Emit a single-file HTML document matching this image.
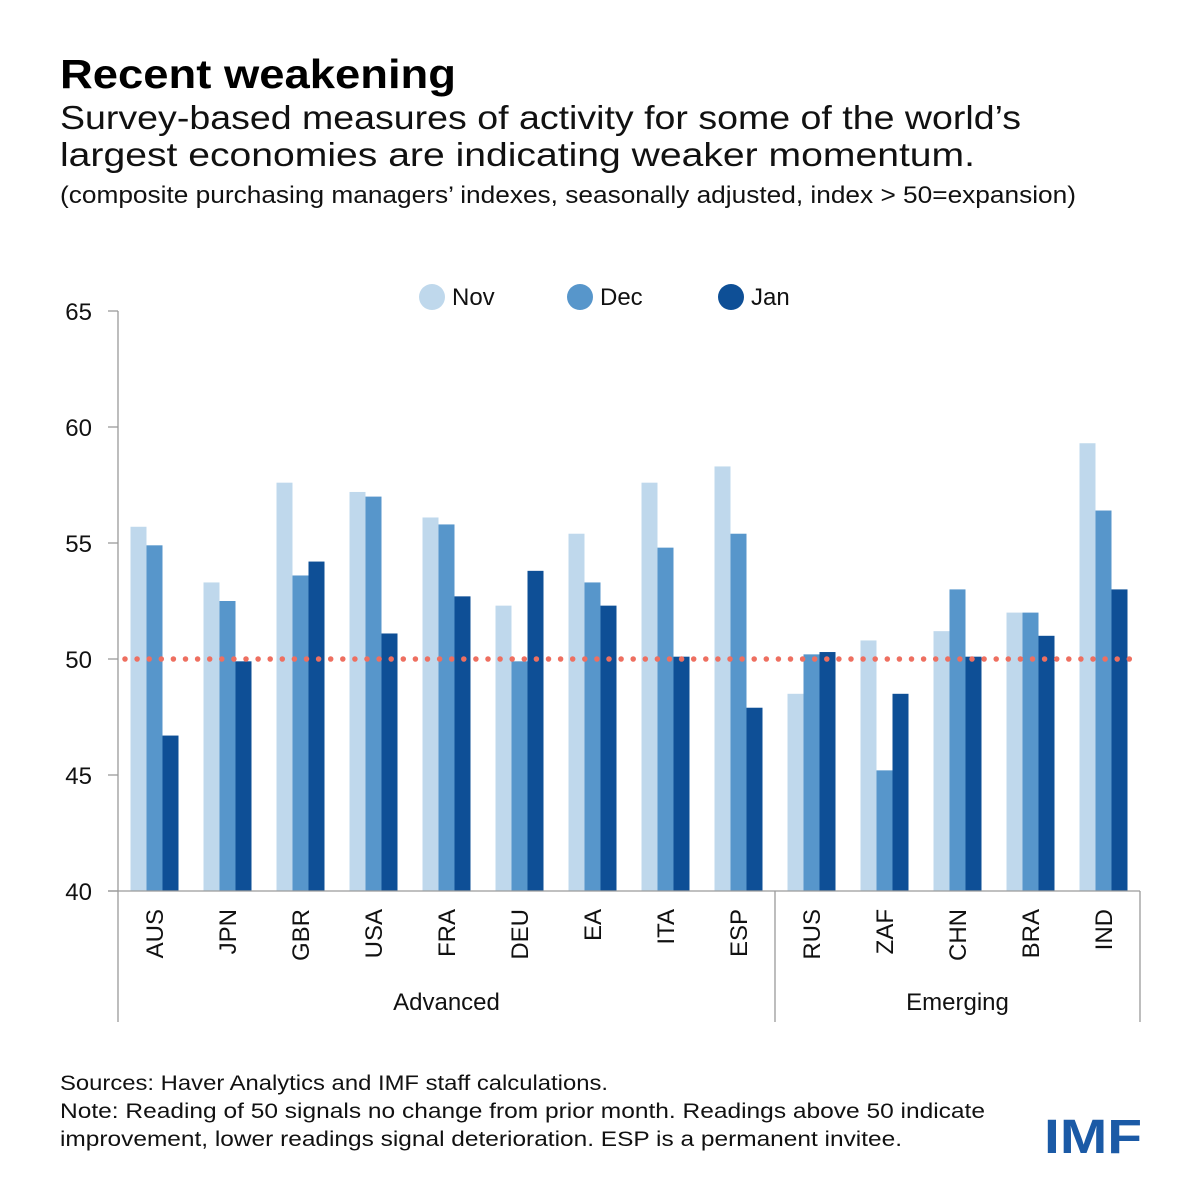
<!DOCTYPE html>
<html><head><meta charset="utf-8"><style>
html,body{margin:0;padding:0;background:#fff;}
svg{display:block;font-family:"Liberation Sans",sans-serif;}
</style></head><body>
<svg id="chart" width="1200" height="1200" viewBox="0 0 1200 1200" xmlns="http://www.w3.org/2000/svg">
<text x="60" y="88" font-size="41" font-weight="bold" textLength="396" lengthAdjust="spacingAndGlyphs" fill="#000">Recent weakening</text>
<text x="60" y="129" font-size="33" textLength="961" lengthAdjust="spacingAndGlyphs" fill="#111">Survey-based measures of activity for some of the world’s</text>
<text x="60" y="166" font-size="33" textLength="915" lengthAdjust="spacingAndGlyphs" fill="#111">largest economies are indicating weaker momentum.</text>
<text x="60" y="203" font-size="24" textLength="1016" lengthAdjust="spacingAndGlyphs" fill="#111">(composite purchasing managers’ indexes, seasonally adjusted, index &gt; 50=expansion)</text>
<g id="legend"></g>
<g id="plot"></g>
<text x="60" y="1090" font-size="21" textLength="548" lengthAdjust="spacingAndGlyphs" fill="#111">Sources: Haver Analytics and IMF staff calculations.</text>
<text x="60" y="1118" font-size="21" textLength="925" lengthAdjust="spacingAndGlyphs" fill="#111">Note: Reading of 50 signals no change from prior month. Readings above 50 indicate</text>
<text x="60" y="1146" font-size="21" textLength="842" lengthAdjust="spacingAndGlyphs" fill="#111">improvement, lower readings signal deterioration. ESP is a permanent invitee.</text>
<text x="1044" y="1153" font-size="48" font-weight="bold" textLength="98" lengthAdjust="spacingAndGlyphs" fill="#1b5aa6">IMF</text>
</svg>
<script>
const categories = ["AUS","JPN","GBR","USA","FRA","DEU","EA","ITA","ESP","RUS","ZAF","CHN","BRA","IND"];
const groups = ["Advanced","Emerging"];
const groupSizes = [9,5];
const seriesNames = ["Nov","Dec","Jan"];
const novValues = [55.7,53.3,57.6,57.2,56.1,52.3,55.4,57.6,58.3,48.5,50.8,51.2,52.0,59.3];
const decValues = [54.9,52.5,53.6,57.0,55.8,49.9,53.3,54.8,55.4,50.2,45.2,53.0,52.0,56.4];
const janValues = [46.7,49.9,54.2,51.1,52.7,53.8,52.3,50.1,47.9,50.3,48.5,50.1,51.0,53.0];
const yTicks = [40,45,50,55,60,65];
const refValue = 50;

const NS = "http://www.w3.org/2000/svg";
const X0 = 118, X1 = 1140, Y0 = 891, Y1 = 311, YMIN = 40, YMAX = 65;
const band = (X1 - X0) / categories.length;
const barW = 16;
const colors = ["#bfd8ec","#5796cb","#0e4f96"];
const series = [novValues, decValues, janValues];
function y(v){ return Y0 - (v - YMIN) / (YMAX - YMIN) * (Y0 - Y1); }
function xc(i){ return X0 + band * (i + 0.5); }
function mk(tag, attrs, parent){
  const e = document.createElementNS(NS, tag);
  for (const k in attrs) e.setAttribute(k, attrs[k]);
  parent.appendChild(e); return e;
}
const plot = document.getElementById("plot");
const legend = document.getElementById("legend");

// y axis
let ax = mk("line",{x1:X0,y1:Y1,x2:X0,y2:1022,stroke:"#9a9a9a","stroke-width":1.3},plot);


yTicks.forEach(t=>{
  const tk = mk("line",{x1:X0-10,y1:y(t),x2:X0,y2:y(t),stroke:"#9a9a9a","stroke-width":1.3},plot);
  
  
  const lb = mk("text",{x:92,y:y(t)+9,"font-size":24,"text-anchor":"end",fill:"#111"},plot);
  lb.textContent = t;
  
  
});

// bars
categories.forEach((c,i)=>{
  series.forEach((vals,s)=>{
    const v = vals[i];
    const x = xc(i) - 1.5*barW + s*barW;
    const r = mk("rect",{x:x,y:Math.min(y(v),Y0),width:barW,height:Math.abs(Y0-y(v)),fill:colors[s]},plot);
    
    
  });
  const lb = mk("text",{transform:"translate("+(xc(i)+8.5)+",909) rotate(-90)","font-size":24,"text-anchor":"end",fill:"#111"},plot);
  lb.textContent = c;
  
  
});

// x axis
let xa = mk("line",{x1:X0-10,y1:Y0,x2:X1,y2:Y0,stroke:"#9a9a9a","stroke-width":1.3},plot);



// group separators and labels
let start = 0;
groups.forEach((g,gi)=>{
  const end = start + groupSizes[gi];
  const xe = X0 + band*end;
  const sep = mk("line",{x1:xe,y1:Y0,x2:xe,y2:1022,stroke:"#9a9a9a","stroke-width":1.3},plot);
  
  
  const lb = mk("text",{x:(X0+band*start+xe)/2,y:1010,"font-size":24,"text-anchor":"middle",fill:"#111"},plot);
  lb.textContent = g;
  
  
  start = end;
});

// reference line at 50 (dotted)
const ref = mk("line",{x1:X0+7,y1:y(refValue),x2:X1-4,y2:y(refValue),stroke:"#ee6f60","stroke-width":5.5,"stroke-linecap":"round","stroke-dasharray":"0 12.1"},plot);



// legend
const lx = [432,580,731];
seriesNames.forEach((n,s)=>{
  const c = mk("circle",{cx:lx[s],cy:297,r:13,fill:colors[s]},legend);
  
  
  const t = mk("text",{x:lx[s]+20,y:305,"font-size":24,fill:"#111"},legend);
  t.textContent = n;
  
  
});
</script>
</body></html>
